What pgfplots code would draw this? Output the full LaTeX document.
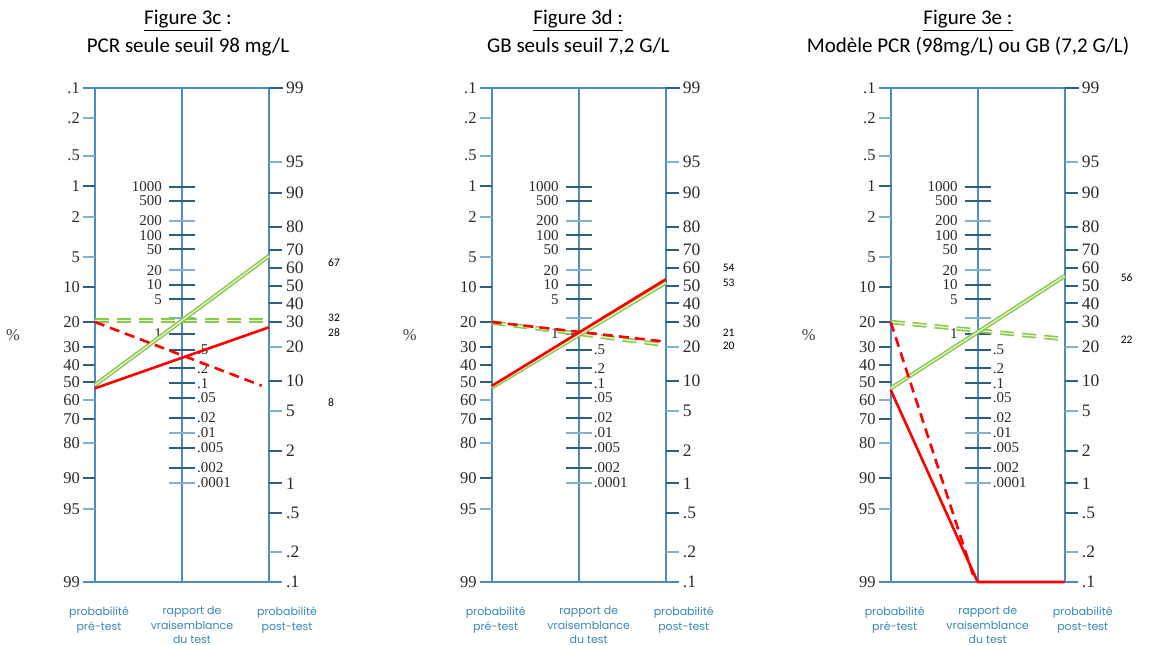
\documentclass[border=0pt]{standalone}
\usepackage{fontspec}
\setmainfont{Carlito}
\newfontfamily\serifnum{Liberation Serif}
\newfontfamily\labfont{Poppins}
\usepackage{pgfplots}
\pgfplotsset{compat=1.18}
\definecolor{axblue}{HTML}{4A8CBE}
\definecolor{tickdark}{HTML}{2E5E80}
\definecolor{ticklight}{HTML}{86AFCA}
\definecolor{numgray}{HTML}{2A2A2A}
\definecolor{labblue}{HTML}{3A86B4}
\definecolor{lgreen}{HTML}{8CC84B}
\definecolor{lgreenin}{HTML}{E8F5DA}
\definecolor{rred}{HTML}{FF0000}
\newcommand{\lnum}{\fontsize{16.5bp}{19bp}\selectfont\serifnum}
\newcommand{\rnum}{\fontsize{17.5bp}{20bp}\selectfont\serifnum}
\newcommand{\mnum}{\fontsize{15bp}{17bp}\selectfont\serifnum}
\newcommand{\LT}[3]{\addplot[#3, line width=1.8bp] coordinates {(-12,#1) (0,#1)};
  \node[anchor=east, font=\lnum, text=numgray, inner sep=0pt] at (axis cs:-15,#1) {#2};}
\newcommand{\RT}[3]{\addplot[#3, line width=1.8bp] coordinates {(174,#1) (187,#1)};
  \node[anchor=west, font=\rnum, text=numgray, inner sep=0pt] at (axis cs:191,#1) {#2};}
\newcommand{\MTl}[3]{\addplot[#3, line width=1.8bp] coordinates {(74,#1) (100,#1)};
  \node[anchor=east, font=\mnum, text=numgray, inner sep=0pt] at (axis cs:67,#1) {#2};}
\newcommand{\MTr}[3]{\addplot[#3, line width=1.8bp] coordinates {(74,#1) (100,#1)};
  \node[anchor=west, font=\mnum, text=numgray, inner sep=0pt] at (axis cs:102,#1) {#2};}
\newcommand{\lab}{\fontsize{11bp}{12bp}\selectfont\labfont}
\newcommand{\nomo}{%
  % frame lines
  \addplot[axblue, line width=1.8bp] coordinates {(0,88) (0,582)};
  \addplot[axblue, line width=1.8bp] coordinates {(87,88) (87,582)};
  \addplot[axblue, line width=1.8bp] coordinates {(174,88) (174,582)};
  \addplot[axblue, line width=1.8bp] coordinates {(-12,88) (174,88)};
  \addplot[tickdark, line width=2.6bp] coordinates {(174,88) (188,88)};
  \addplot[axblue, line width=1.8bp] coordinates {(-12,582) (187,582)};
  % left scale
  \node[anchor=east, font=\lnum, text=numgray, inner sep=0pt] at (axis cs:-15,88) {.1};
  \LT{117.7}{.2}{ticklight}
  \LT{155.7}{.5}{ticklight}
  \LT{186}{1}{tickdark}
  \LT{216.7}{2}{ticklight}
  \LT{257.3}{5}{ticklight}
  \LT{287.3}{10}{tickdark}
  \LT{322.3}{20}{tickdark}
  \LT{347.3}{30}{tickdark}
  \LT{365}{40}{tickdark}
  \LT{382.3}{50}{tickdark}
  \LT{400}{60}{ticklight}
  \LT{418.7}{70}{tickdark}
  \LT{443.3}{80}{ticklight}
  \LT{478}{90}{tickdark}
  \LT{509}{95}{ticklight}
  \node[anchor=east, font=\lnum, text=numgray, inner sep=0pt] at (axis cs:-15,582) {99};
  % right scale
  \node[anchor=west, font=\rnum, text=numgray, inner sep=0pt] at (axis cs:191,88) {99};
  \RT{161.7}{95}{ticklight}
  \RT{192.7}{90}{tickdark}
  \RT{226.7}{80}{tickdark}
  \RT{250}{70}{tickdark}
  \RT{267.7}{60}{tickdark}
  \RT{286}{50}{tickdark}
  \RT{303.3}{40}{tickdark}
  \RT{322}{30}{tickdark}
  \RT{346.7}{20}{ticklight}
  \RT{380.7}{10}{tickdark}
  \RT{411}{5}{ticklight}
  \RT{451}{2}{tickdark}
  \RT{483.3}{1}{tickdark}
  \RT{513.3}{.5}{tickdark}
  \RT{552.3}{.2}{ticklight}
  \node[anchor=west, font=\rnum, text=numgray, inner sep=0pt] at (axis cs:191,582) {.1};
  % middle scale
  \MTl{186.7}{1000}{tickdark}
  \MTl{201}{500}{tickdark}
  \MTl{221}{200}{ticklight}
  \MTl{235.3}{100}{tickdark}
  \MTl{249.3}{50}{tickdark}
  \MTl{270.3}{20}{ticklight}
  \MTl{285}{10}{tickdark}
  \MTl{299.3}{5}{tickdark}
  \addplot[ticklight, line width=1.8bp] coordinates {(74,318.3) (100,318.3)};
  \MTl{334}{1}{tickdark}
  \MTr{350}{.5}{tickdark}
  \MTr{368.3}{.2}{tickdark}
  \MTr{383.3}{.1}{tickdark}
  \MTr{397.7}{.05}{tickdark}
  \MTr{418}{.02}{tickdark}
  \MTr{432.7}{.01}{ticklight}
  \MTr{447.7}{.005}{tickdark}
  \MTr{467.7}{.002}{tickdark}
  \MTr{482.7}{.0001}{ticklight}
  % percent sign
  \node[font=\lnum, text=darkgray] at (axis cs:-82,335) {\%};
  % bottom labels
  \node[anchor=base, font=\lab, text=labblue, inner sep=0pt] at (axis cs:4,615) {probabilité};
  \node[anchor=base, font=\lab, text=labblue, inner sep=0pt] at (axis cs:4,630) {pré-test};
  \node[anchor=base, font=\lab, text=labblue, inner sep=0pt] at (axis cs:97,614) {rapport de};
  \node[anchor=base, font=\lab, text=labblue, inner sep=0pt] at (axis cs:97,629) {vraisemblance};
  \node[anchor=base, font=\lab, text=labblue, inner sep=0pt] at (axis cs:97,643) {du test};
  \node[anchor=base, font=\lab, text=labblue, inner sep=0pt] at (axis cs:192,615) {probabilité};
  \node[anchor=base, font=\lab, text=labblue, inner sep=0pt] at (axis cs:192,630) {post-test};
}
\pgfplotsset{
  panel/.style={hide axis, scale only axis, width=390bp, height=645bp,
    xmin=-95, xmax=295, ymin=0, ymax=645, y dir=reverse, clip=false,
    anchor=south west},
  gsolid/.style={lgreen, line width=1.5bp, double=lgreenin, double distance=1.2bp},
  gdash/.style={lgreen, line width=1.6bp, double=lgreenin, double distance=1.3bp, dash pattern=on 14bp off 8bp},
  rsolid/.style={rred, line width=2.6bp},
  rdash/.style={rred, line width=2.6bp, dash pattern=on 10bp off 6bp},
}
\tikzset{
  vlab/.style={anchor=west, font=\fontsize{11.5bp}{13bp}\selectfont, inner sep=0pt},
  ttl/.style={anchor=base, font=\fontsize{21bp}{24bp}\selectfont, inner sep=0pt},
}
\begin{document}
\begin{tikzpicture}
\useasboundingbox (0,0) rectangle (1168bp,645bp);
% ---------- Figure 3c ----------
\begin{axis}[panel, at={(0bp,0bp)}]
  \nomo
  \node[ttl] at (axis cs:93,25) {\underline{Figure 3c} :};
  \node[ttl] at (axis cs:93,53) {PCR seule seuil 98 mg/L};
  \addplot[gdash] coordinates {(0,320.7) (174,320.7)};
  \addplot[gsolid] coordinates {(0,385) (174,256)};
  \addplot[rdash] coordinates {(0,322) (166.7,385.7)};
  \addplot[rsolid] coordinates {(0,388.3) (174,327.3)};
  \node[vlab] at (axis cs:233,262.7) {67};
  \node[vlab] at (axis cs:233,318.3) {32};
  \node[vlab] at (axis cs:233,332.7) {28};
  \node[vlab] at (axis cs:233,403) {8};
\end{axis}
% ---------- Figure 3d ----------
\begin{axis}[panel, at={(396.7bp,0bp)}]
  \nomo
  \node[ttl] at (axis cs:86.6,25) {\underline{Figure 3d :}};
  \node[ttl] at (axis cs:86.6,53) {GB seuls seuil 7,2 G/L};
  \addplot[gdash] coordinates {(0,322.5) (174,345)};
  \addplot[gsolid] coordinates {(0,387.5) (174,282.7)};
  \addplot[rdash] coordinates {(0,322) (174,341.7)};
  \addplot[rsolid] coordinates {(0,386) (174,279.3)};
  \node[vlab] at (axis cs:231,268.3) {54};
  \node[vlab] at (axis cs:231,282.7) {53};
  \node[vlab] at (axis cs:231,332.7) {21};
  \node[vlab] at (axis cs:231,345.7) {20};
\end{axis}
% ---------- Figure 3e ----------
\begin{axis}[panel, at={(795.7bp,0bp)}]
  \nomo
  \node[ttl] at (axis cs:77.3,25) {\underline{Figure 3e :}};
  \node[ttl] at (axis cs:77.3,53) {Modèle PCR (98mg/L) ou GB (7,2 G/L)};
  \addplot[gdash] coordinates {(0,322) (174,339)};
  \addplot[gsolid] coordinates {(0,388.3) (174,276)};
  \addplot[rdash] coordinates {(0,322) (84,580)};
  \addplot[rsolid] coordinates {(0,390) (87,582) (174,582)};
  \node[vlab] at (axis cs:230,277.7) {56};
  \node[vlab] at (axis cs:230,340) {22};
\end{axis}
\end{tikzpicture}
\end{document}
